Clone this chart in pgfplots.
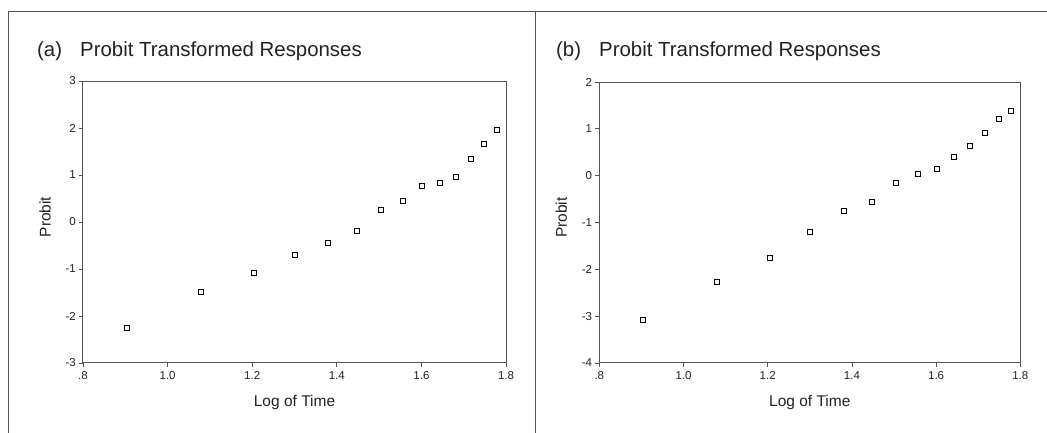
\documentclass[border=0pt]{standalone}
\usepackage{fontspec}
\setmainfont{Liberation Sans}
\usepackage{pgfplots}
\pgfplotsset{compat=1.18}

\definecolor{axisgray}{HTML}{555555}
\definecolor{txt}{HTML}{222222}

\pgfplotsset{
  probit/.style={
    scale only axis,
    anchor=south west,
    xmin=0.8, xmax=1.8,
    xtick={0.8,1.0,1.2,1.4,1.6,1.8},
    xticklabels={.8,1.0,1.2,1.4,1.6,1.8},
    tick align=outside, tick pos=left,
    major tick length=4pt,
    axis line style={axisgray, line width=1pt},
    every tick/.style={axisgray, line width=0.8pt},
    ticklabel style={font=\fontsize{11.5}{13}\selectfont, text=txt, inner sep=0pt},
    xticklabel style={yshift=-4.5pt},
    yticklabel style={xshift=-3pt},
    xlabel={Log of Time},
    ylabel={Probit},
    label style={font=\fontsize{15.5}{18}\selectfont, text=txt, inner sep=0pt},
    xlabel style={at={(axis description cs:0.5,0)}, anchor=north, yshift=-32pt},
    % rotated label: local x runs up, local y runs left
    ylabel style={at={(axis description cs:0,0.5)}, anchor=center, xshift=5pt, yshift=38pt},
    clip=false,
  },
  pts/.style={only marks, mark=square, mark size=2.5pt,
    mark options={black, line width=0.75pt, fill=white}},
}

\begin{document}
\begin{tikzpicture}
\useasboundingbox (0,0) rectangle (1047pt,433pt);

% frame
\draw[axisgray, line width=1pt] (8pt,0pt) -- (8pt,421.5pt) -- (1047pt,421.5pt);
\draw[axisgray, line width=1pt] (535.7pt,0pt) -- (535.7pt,421.5pt);

% titles
\node[anchor=base west, inner sep=0pt, font=\fontsize{20.4}{24}\selectfont, text=txt] at (37pt,376pt) {(a)};
\node[anchor=base west, inner sep=0pt, font=\fontsize{20.4}{24}\selectfont, text=txt] at (80pt,376pt) {Probit Transformed Responses};
\node[anchor=base west, inner sep=0pt, font=\fontsize{20.4}{24}\selectfont, text=txt] at (556pt,376pt) {(b)};
\node[anchor=base west, inner sep=0pt, font=\fontsize{20.4}{24}\selectfont, text=txt] at (599pt,376pt) {Probit Transformed Responses};

% ---- (a) ----
\begin{axis}[probit,
  at={(83pt,70pt)}, width=423pt, height=282pt,
  ymin=-3, ymax=3,
  ytick={-3,-2,-1,0,1,2,3},
  yticklabels={-3,-2,-1,0,1,2,3},
]
\addplot[pts] coordinates {
  (0.903,-2.25) (1.079,-1.49) (1.204,-1.09) (1.301,-0.71) (1.380,-0.45)
  (1.447,-0.19) (1.505,0.25) (1.556,0.45) (1.602,0.77) (1.643,0.83)
  (1.681,0.97) (1.716,1.34) (1.748,1.67) (1.778,1.96)
};
\end{axis}

% ---- (b) ----
\begin{axis}[probit,
  at={(599.3pt,70pt)}, width=421pt, height=281pt,
  ymin=-4, ymax=2,
  ytick={-4,-3,-2,-1,0,1,2},
  yticklabels={-4,-3,-2,-1,0,1,2},
]
\addplot[pts] coordinates {
  (0.903,-3.08) (1.079,-2.27) (1.204,-1.76) (1.301,-1.21) (1.380,-0.75)
  (1.447,-0.55) (1.505,-0.16) (1.556,0.04) (1.602,0.15) (1.643,0.41)
  (1.681,0.63) (1.716,0.92) (1.748,1.21) (1.778,1.38)
};
\end{axis}
\end{tikzpicture}
\end{document}
